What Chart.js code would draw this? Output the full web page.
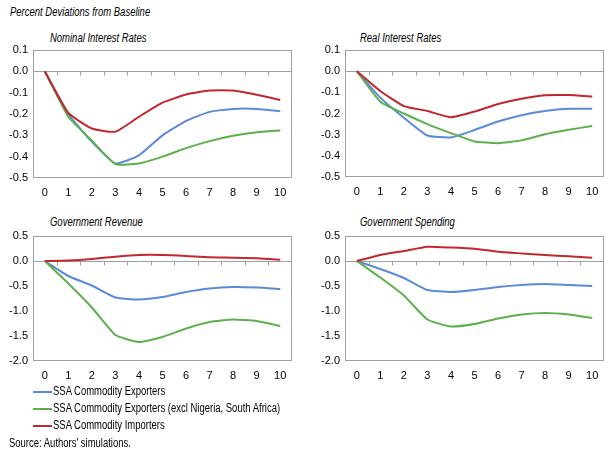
<!DOCTYPE html>
<html>
<head>
<meta charset="utf-8">
<script src="https://cdn.jsdelivr.net/npm/chart.js@4"></script>
<style>
  body { margin: 0; background: #fff; width: 614px; height: 452px; position: relative; overflow: hidden;
         font-family: 'Liberation Sans', Arial, sans-serif; color: #000; }
  .box { position: absolute; width: 300px; }
  .txt { position: absolute; font-size: 12px; line-height: 14px; white-space: nowrap;
         transform: scaleX(0.79); transform-origin: 0 50%; }
  .it { font-style: italic; }
  .leg { position: absolute; left: 33px; font-size: 12px; line-height: 14px; white-space: nowrap; }
  .leg span { display: inline-block; width: 19px; height: 2px; vertical-align: middle; margin-right: 1px; }
  .leg b { font-weight: normal; display: inline-block; transform: scaleX(0.79); transform-origin: 0 50%; }
</style>
</head>
<body>
<div class="txt it" style="left:10px; top:5px;">Percent Deviations from Baseline</div>

<div class="txt it" style="left:50px; top:31px;">Nominal Interest Rates</div>
<div class="txt it" style="left:360px; top:31px;">Real Interest Rates</div>
<div class="txt it" style="left:50px; top:215px;">Government Revenue</div>
<div class="txt it" style="left:360px; top:215px;">Government Spending</div>

<div class="box" style="left:0px; top:38px; height:165px;"><canvas id="nominal_chart"></canvas></div>
<div class="box" style="left:312px; top:38px; height:164px;"><canvas id="real_chart"></canvas></div>
<div class="box" style="left:0px; top:224px; height:162px;"><canvas id="revenue_chart"></canvas></div>
<div class="box" style="left:312px; top:224px; height:162px;"><canvas id="spending_chart"></canvas></div>

<div id="legend"></div>
<div class="txt" style="left:9px; top:436px;">Source: Authors’ simulations.</div>

<script>
// years after the shock
var years = ['0', '1', '2', '3', '4', '5', '6', '7', '8', '9', '10'];

var seriesNames = [
    'SSA Commodity Exporters',
    'SSA Commodity Exporters (excl Nigeria, South Africa)',
    'SSA Commodity Importers'
];
var seriesColors = ['#5a8ad8', '#5cb04c', '#c0282e'];

// Nominal interest rates
var nominalExp     = [0, -0.200, -0.330, -0.432, -0.394, -0.300, -0.232, -0.190, -0.176, -0.176, -0.187];
var nominalExpExcl = [0, -0.213, -0.325, -0.435, -0.432, -0.400, -0.360, -0.327, -0.302, -0.285, -0.277];
var nominalImp     = [0, -0.195, -0.268, -0.283, -0.213, -0.147, -0.109, -0.090, -0.090, -0.110, -0.134];

// Real interest rates
var realExp     = [0, -0.125, -0.220, -0.304, -0.313, -0.278, -0.238, -0.208, -0.188, -0.178, -0.177];
var realExpExcl = [0, -0.144, -0.200, -0.250, -0.293, -0.332, -0.340, -0.327, -0.298, -0.277, -0.259];
var realImp     = [0, -0.094, -0.165, -0.188, -0.218, -0.191, -0.155, -0.130, -0.114, -0.113, -0.120];

// Government revenue
var revenueExp     = [0, -0.30, -0.49, -0.73, -0.77, -0.72, -0.62, -0.55, -0.52, -0.53, -0.56];
var revenueExpExcl = [0, -0.45, -0.93, -1.48, -1.62, -1.52, -1.35, -1.22, -1.17, -1.20, -1.30];
var revenueImp     = [0, 0.010, 0.040, 0.086, 0.120, 0.120, 0.100, 0.073, 0.066, 0.053, 0.026];

// Government spending
var spendingExp     = [0, -0.16, -0.34, -0.58, -0.62, -0.58, -0.52, -0.48, -0.46, -0.48, -0.50];
var spendingExpExcl = [0, -0.33, -0.69, -1.17, -1.31, -1.26, -1.15, -1.07, -1.04, -1.07, -1.14];
var spendingImp     = [0, 0.120, 0.200, 0.285, 0.270, 0.245, 0.185, 0.152, 0.120, 0.093, 0.066];

/////////////////////////////////////////////////////////

Chart.defaults.font.family = "'Liberation Sans', Arial, sans-serif";
Chart.defaults.font.size = 11;
Chart.defaults.color = '#000';

// box round the plot, zero line and the small ticks on it
var framePlugin = {
    id: 'frame',
    beforeDatasetsDraw: function(chart) {
        var ctx = chart.ctx;
        var a = chart.chartArea;
        var x = chart.scales.x;
        var y = chart.scales.y;
        ctx.save();
        ctx.strokeStyle = '#a0a0a0';
        ctx.lineWidth = 1;
        ctx.strokeRect(Math.round(a.left) + 0.5, Math.round(a.top) + 0.5,
                       Math.round(a.right - a.left) - 1, Math.round(a.bottom - a.top) - 1);
        var y0 = Math.round(y.getPixelForValue(0)) + 0.5;
        var step = x.getPixelForValue(1) - x.getPixelForValue(0);
        ctx.beginPath();
        ctx.moveTo(a.left, y0);
        ctx.lineTo(a.right, y0);
        for (var i = 1; i < years.length; i++) {
            var px = Math.round(x.getPixelForValue(i) - step / 2) + 0.5;
            ctx.moveTo(px, y0);
            ctx.lineTo(px, y0 + 4);
        }
        ctx.stroke();
        ctx.restore();
    }
};

function makePanel(id, exp, expExcl, imp, yMin, yMax, yStep) {
    var data = [exp, expExcl, imp];
    var datasets = data.map(function(d, i) {
        return {
            label: seriesNames[i],
            data: d,
            borderColor: seriesColors[i],
            borderWidth: 2,
            lineTension: 0.15,
            fill: false,
            pointRadius: 0,
            order: 3 - i
        };
    });

    return new Chart(document.getElementById(id), {
        type: 'line',
        data: { labels: years, datasets: datasets },
        options: {
            responsive: true,
            maintainAspectRatio: false,
            animation: false,
            layout: { padding: { top: 12, right: 8, left: 0, bottom: 0 } },
            plugins: { legend: { display: false }, tooltip: { enabled: false } },
            scales: {
                x: {
                    offset: true,
                    grid: { display: false, drawTicks: false },
                    border: { display: false },
                    ticks: { padding: 8, maxRotation: 0, autoSkip: false },
                    afterFit: function(s) { s.height = 25; }
                },
                y: {
                    min: yMin,
                    max: yMax,
                    grid: { display: false, drawTicks: false },
                    border: { display: false },
                    ticks: {
                        stepSize: yStep,
                        padding: 5,
                        callback: function(v) {
                            if (Math.abs(v) < 1e-9) v = 0;
                            return Number(v).toFixed(1);
                        }
                    },
                    afterFit: function(s) { s.width = 33; }
                }
            }
        },
        plugins: [framePlugin]
    });
}

makePanel('nominal_chart', nominalExp, nominalExpExcl, nominalImp, -0.5, 0.1, 0.1);
makePanel('real_chart', realExp, realExpExcl, realImp, -0.5, 0.1, 0.1);
makePanel('revenue_chart', revenueExp, revenueExpExcl, revenueImp, -2.0, 0.5, 0.5);
makePanel('spending_chart', spendingExp, spendingExpExcl, spendingImp, -2.0, 0.5, 0.5);

// shared legend under the panels
var legend = document.getElementById('legend');
seriesNames.forEach(function(name, i) {
    var row = document.createElement('div');
    row.className = 'leg';
    row.style.top = (384 + i * 17) + 'px';
    var label = document.createElement('b');
    label.textContent = name;
    row.innerHTML = '<span style="background:' + seriesColors[i] + '"></span>';
    row.appendChild(label);
    legend.appendChild(row);
});
</script>
</body>
</html>
